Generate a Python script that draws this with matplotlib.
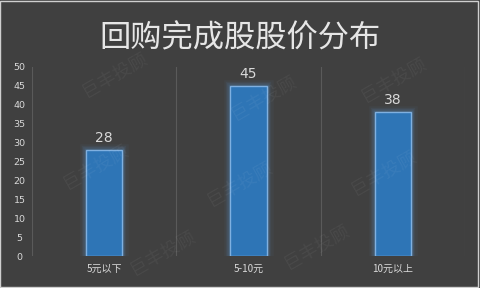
import matplotlib
matplotlib.use("Agg")
import matplotlib.pyplot as plt
from matplotlib.patches import Rectangle
import numpy as np

plt.rcParams['font.family'] = ['Noto Sans CJK SC', 'DejaVu Sans']

title = "回购完成股股价分布"
categories = ["5元以下", "5-10元", "10元以上"]
values = [28, 45, 38]
y_ticks = [0, 5, 10, 15, 20, 25, 30, 35, 40, 45, 50]

BG = "#404040"
TXT = "#d9d9d9"
FILL = "#2e75b6"
EDGE = "#7fb0e0"

W, H = 480, 288
fig = plt.figure(figsize=(W / 100, H / 100), dpi=100, facecolor=BG)
ax = fig.add_axes([32 / W, 1 - 256 / H, (465 - 32) / W, (256 - 67) / H])
ax.set_facecolor(BG)

x = np.arange(len(categories))
bw = 0.25

# soft glow behind each bar
for lw, a in [(9, 0.05), (6, 0.08), (4, 0.12), (2.5, 0.18)]:
    ax.bar(x, values, width=bw, color="none", edgecolor="#5b9bd5",
           linewidth=lw, alpha=a, zorder=2)
ax.bar(x, values, width=bw, color=FILL, edgecolor=EDGE, linewidth=1.0, zorder=3)

for xi, v in zip(x, values):
    ax.text(xi, v + 1.3, str(v), ha="center", va="bottom", color=TXT,
            fontsize=10, family=["DejaVu Sans"], zorder=4)

ax.set_xlim(-0.5, len(categories) - 0.5)
ax.set_ylim(0, 50)
ax.set_yticks(y_ticks)
ax.set_yticklabels([str(t) for t in y_ticks], color=TXT, fontsize=6.8,
                   family=["DejaVu Sans"])
ax.set_xticks(x)
ax.set_xticklabels(categories, color=TXT, fontsize=7.2)
ax.tick_params(axis="both", length=0)
ax.tick_params(axis="y", pad=9)
ax.tick_params(axis="x", pad=6)
for lbl in ax.get_yticklabels():
    lbl.set_horizontalalignment("center")

# vertical separators between categories
for b in np.arange(-0.5, len(categories), 1.0):
    ax.axvline(b, color="#5a5a5a", linewidth=0.8, zorder=1)
for s in ax.spines.values():
    s.set_visible(False)

# faint watermark
for (wx, wy) in [(0.24, 0.74), (0.55, 0.66), (0.82, 0.72), (0.2, 0.42),
                 (0.5, 0.36), (0.8, 0.4), (0.34, 0.12), (0.66, 0.14)]:
    fig.text(wx, wy, "巨丰投顾", rotation=30, fontsize=13, color="white",
             alpha=0.05, ha="center", va="center")

fig.text(0.5, 1 - 38 / H, title, ha="center", va="center", color="#e6e6e6",
         fontsize=22.5, fontweight="medium")

fig.add_artist(Rectangle((0.001, 0.002), 0.994, 0.995, transform=fig.transFigure,
                         fill=False, edgecolor="#cfcfcf", linewidth=1.0))

fig.savefig("out.png", dpi=100, facecolor=BG)
